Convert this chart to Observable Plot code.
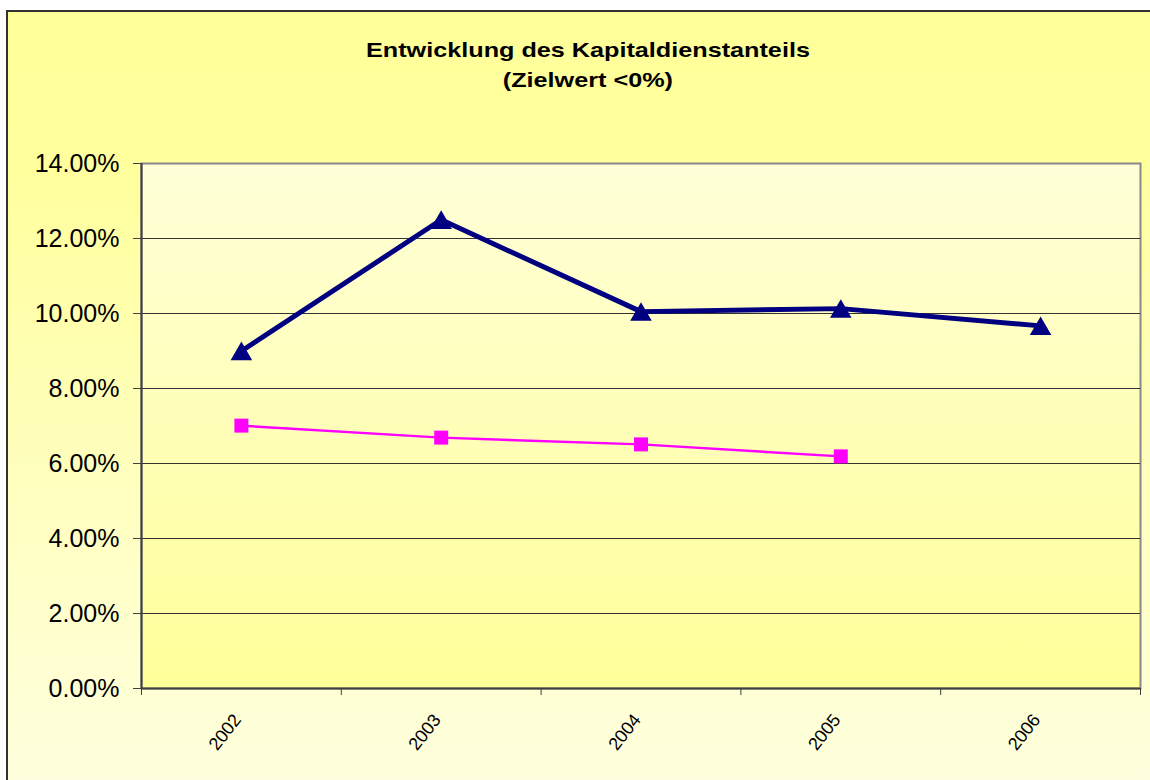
<!DOCTYPE html>
<html><head><meta charset="utf-8">
<script src="https://cdn.jsdelivr.net/npm/d3@7"></script>
<script src="https://cdn.jsdelivr.net/npm/@observablehq/plot@0.6"></script>
<style>
html,body{margin:0;padding:0;width:1150px;height:780px;overflow:hidden;background:#fff;font-family:"Liberation Sans",Arial,sans-serif;}
#frame{position:absolute;left:6px;top:10px;width:1170px;height:790px;border-left:2px solid #333;border-top:2px solid #333;background:linear-gradient(to bottom,#FFFF99 0%,#FFFF9E 20%,#FFFFE0 100%);}
#title{position:absolute;left:6px;width:1164px;top:35px;text-align:center;font-weight:bold;font-size:21px;line-height:30px;color:#000;}
#title span{display:inline-block;transform:scaleX(1.2);}
#chart{position:absolute;left:0;top:0;}
</style></head><body>
<svg width="0" height="0" style="position:absolute"><defs><linearGradient id="plotGrad" x1="0" y1="0" x2="0" y2="1"><stop offset="0" stop-color="#FFFFD8"/><stop offset="1" stop-color="#FFFF99"/></linearGradient></defs></svg>
<div id="frame"></div>
<div id="title"><span>Entwicklung des Kapitaldienstanteils</span><br><span>(Zielwert &lt;0%)</span></div>
<div id="chart"></div>
<script>
const years = [2002, 2003, 2004, 2005, 2006];
const kapitaldienstanteil = [0.090, 0.125, 0.1005, 0.1013, 0.0967];
const vergleichsYears = [2002, 2003, 2004, 2005];
const vergleichswert = [0.0701, 0.0669, 0.0651, 0.0619];
const yTicks = [0, 0.02, 0.04, 0.06, 0.08, 0.10, 0.12, 0.14];
const categoryBounds = [2001.5, 2002.5, 2003.5, 2004.5, 2005.5, 2006.5];

const blue = years.map((year, i) => ({year, value: kapitaldienstanteil[i]}));
const pink = vergleichsYears.map((year, i) => ({year, value: vergleichswert[i]}));

const chart = Plot.plot({
  width: 1150, height: 780,
  marginLeft: 141, marginRight: 10, marginTop: 163, marginBottom: 92,
  style: {background: "transparent", fontFamily: "Liberation Sans, Arial, sans-serif", color: "#000"},
  x: {type: "linear", domain: [categoryBounds[0], categoryBounds[categoryBounds.length - 1]]},
  y: {domain: [0, 0.14]},
  marks: [
    Plot.frame({fill: "url(#plotGrad)", stroke: "#888", strokeWidth: 2}),
    Plot.ruleY(yTicks.filter(d => d > 0 && d < 0.14), {stroke: "#333", strokeWidth: 1}),
    Plot.axisY({ticks: yTicks, tickFormat: d3.format(".2%"), tickSize: 8, tickPadding: 14, fontSize: 25, stroke: "#404040", label: null}),
    Plot.axisX({ticks: categoryBounds, tickFormat: () => "", tickSize: 7, stroke: "#404040", label: null}),
    Plot.axisX({ticks: years, tickFormat: d => String(d), tickSize: 0, tickPadding: 28, tickRotate: -52, fontSize: 18, label: null, dx: -4}),
    Plot.ruleX([categoryBounds[0]], {stroke: "#404040", strokeWidth: 2}),
    Plot.ruleY([0], {stroke: "#404040", strokeWidth: 2}),
    Plot.line(pink, {x: "year", y: "value", stroke: "#FF00FF", strokeWidth: 2.5}),
    Plot.dot(pink, {x: "year", y: "value", symbol: "square", r: 7.9, fill: "#FF00FF"}),
    Plot.line(blue, {x: "year", y: "value", stroke: "#000080", strokeWidth: 5}),
    Plot.dot(blue, {x: "year", y: "value", symbol: "triangle", r: 8, fill: "#000080", dy: 3})
  ]
});
document.getElementById("chart").appendChild(chart);
</script>
</body></html>
